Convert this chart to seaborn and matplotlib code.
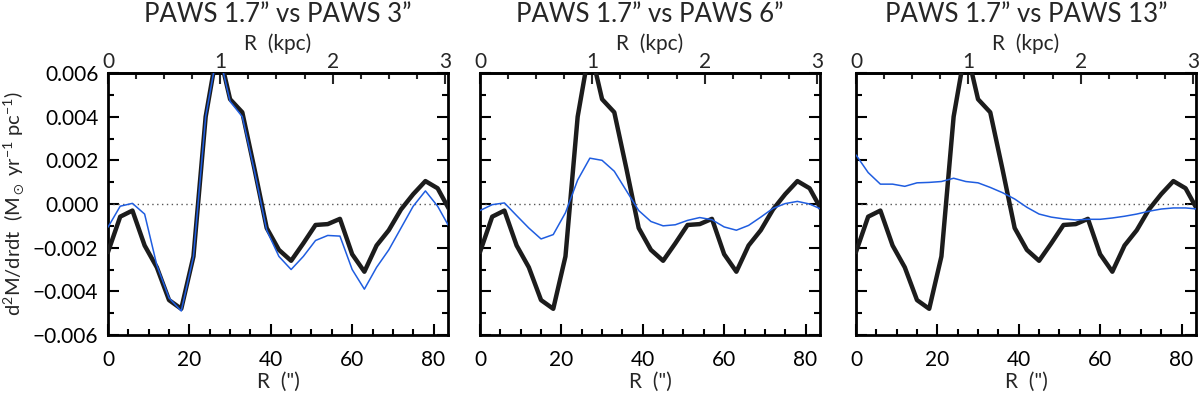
import numpy as np
import pandas as pd
import matplotlib
matplotlib.use('Agg')
import matplotlib.pyplot as plt
import seaborn as sns
from matplotlib.ticker import MultipleLocator, FuncFormatter

# radius in arcsec (3" sampling)
r_arcsec = [0, 3, 6, 9, 12, 15, 18, 21, 24, 27, 30, 33, 36, 39, 42,
            45, 48, 51, 54, 57, 60, 63, 66, 69, 72, 75, 78, 81, 84]

# PAWS 1.7" reference profile (thick black line, same in every panel)
paws_17 = [-0.0022, -0.00058, -0.0003, -0.0019, -0.0029, -0.0044, -0.0048, -0.0024,
           0.0040, 0.0072, 0.0048, 0.0042, 0.0016, -0.0011, -0.0021,
           -0.0026, -0.0018, -0.00096, -0.00092, -0.00068, -0.0023, -0.0031,
           -0.0019, -0.0012, -0.00025, 0.00045, 0.00105, 0.00072, -0.0003]

# comparison profiles (thin blue lines)
paws_3 = [-0.00106, -0.0001, 0.00003, -0.00046, -0.0028, -0.0043, -0.0049, -0.0024,
          0.0040, 0.0071, 0.0047, 0.0040, 0.0015, -0.0012, -0.0024,
          -0.0030, -0.0024, -0.00167, -0.00144, -0.00147, -0.0030, -0.0039,
          -0.0029, -0.0021, -0.0011, -0.0001, 0.0006, -0.0001, -0.0011]

paws_6 = [-0.0003, -0.00003, 0.00005, -0.00053, -0.0011, -0.0016, -0.0014, -0.0004,
          0.0011, 0.0021, 0.0020, 0.0015, 0.0006, -0.0003, -0.0008,
          -0.0010, -0.00095, -0.00075, -0.00062, -0.00072, -0.00105, -0.0012,
          -0.00098, -0.0006, -0.0002, 0.00002, 0.00012, 0.0, -0.00025]

paws_13 = [0.00225, 0.00144, 0.00091, 0.00091, 0.00081, 0.00097, 0.00099, 0.00103,
           0.00118, 0.00103, 0.00097, 0.00076, 0.00052, 0.00023, -0.00015,
           -0.00046, -0.0006, -0.00068, -0.00073, -0.0007, -0.0007, -0.00064,
           -0.00056, -0.00046, -0.00033, -0.00023, -0.00018, -0.00018, -0.00023]

titles = ['PAWS 1.7\u201d vs PAWS 3\u201d',
          'PAWS 1.7\u201d vs PAWS 6\u201d',
          'PAWS 1.7\u201d vs PAWS 13\u201d']
comparisons = [paws_3, paws_6, paws_13]

arcsec_per_kpc = 27.6

sns.set_theme(style='ticks')
plt.rcParams['font.family'] = ['Lato', 'DejaVu Sans']
plt.rcParams['mathtext.fontset'] = 'custom'
plt.rcParams['mathtext.rm'] = 'Lato'
plt.rcParams['mathtext.it'] = 'Lato'
plt.rcParams['mathtext.default'] = 'regular'

fig = plt.figure(figsize=(12, 3.94), dpi=100)
lefts = [0.09, 0.40, 0.7133]
width = 0.2835
bottom = 0.1497
height = 0.665
fs = 15

fmt = FuncFormatter(lambda v, p: '0.000' if abs(v) < 1e-9 else f'{v:.3f}'.replace('-', '\u2212'))

for i, (title, comp) in enumerate(zip(titles, comparisons)):
    ax = fig.add_axes([lefts[i], bottom, width, height])
    df = pd.DataFrame({'R': r_arcsec, 'ref': paws_17, 'comp': comp})

    ax.axhline(0, color='#555555', lw=1, ls=(0, (1, 2.5)), zorder=1)
    sns.lineplot(data=df, x='R', y='ref', ax=ax, color='#1c1c1c', lw=3.2, zorder=3)
    sns.lineplot(data=df, x='R', y='comp', ax=ax, color='#1f5de0', lw=1.1, zorder=4)

    ax.set_xlim(0, 83.6)
    ax.set_ylim(-0.006, 0.006)
    ax.xaxis.set_major_locator(MultipleLocator(20))
    ax.xaxis.set_minor_locator(MultipleLocator(5))
    ax.yaxis.set_major_locator(MultipleLocator(0.002))
    ax.yaxis.set_minor_locator(MultipleLocator(0.001))
    ax.yaxis.set_major_formatter(fmt)
    ax.tick_params(which='both', direction='in', top=False, right=True,
                   width=1.5, colors='black', labelsize=fs)
    ax.tick_params(which='major', length=8)
    ax.tick_params(axis='x', which='major', pad=11)
    ax.tick_params(axis='y', which='major', pad=7)
    ax.tick_params(which='minor', length=4)
    for s in ax.spines.values():
        s.set_linewidth(2)
        s.set_color('black')

    ax.set_xlabel('R  (")', fontsize=fs, labelpad=1)
    if i == 0:
        ax.set_ylabel(r'd$^2$M/drdt  (M$_\odot$ yr$^{-1}$ pc$^{-1}$)', fontsize=14.5, labelpad=5)
    else:
        ax.set_ylabel('')
        ax.tick_params(axis='y', labelleft=False)

    sec = ax.secondary_xaxis('top', functions=(lambda x: x / arcsec_per_kpc,
                                                lambda k: k * arcsec_per_kpc))
    sec.xaxis.set_major_locator(MultipleLocator(1))
    sec.xaxis.set_minor_locator(MultipleLocator(0.25))
    sec.tick_params(which='both', direction='in', width=1.5, labelsize=fs)
    sec.tick_params(which='major', length=8, pad=1)
    sec.tick_params(which='minor', length=4)
    sec.spines['top'].set_linewidth(2)
    sec.set_xlabel('R  (kpc)', fontsize=fs, labelpad=1)

    ax.text(0.5, 1.225, title, transform=ax.transAxes, ha='center', va='center',
            fontsize=18.5)

fig.savefig('out.png', dpi=100)
